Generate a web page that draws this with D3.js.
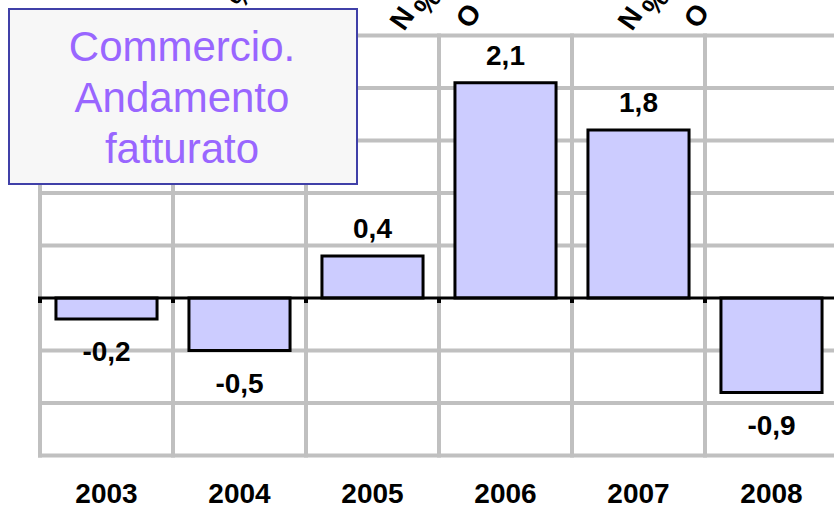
<!DOCTYPE html>
<meta charset="utf-8">
<style>
body { margin: 0; background: #fff; }
svg { display: block; }
.grid line { stroke: #c0c0c0; stroke-width: 4; }
.num { font-family: "Liberation Sans", Arial, sans-serif; font-weight: bold; font-size: 28px; fill: #000; }
.title { font-family: "Liberation Sans", Arial, sans-serif; font-size: 42px; fill: #9966ff; }
</style>
<body>
<script src="https://cdn.jsdelivr.net/npm/d3@7"></script>
<script>

// data
var years = ["2003", "2004", "2005", "2006", "2007", "2008"];
var values = [-0.2, -0.5, 0.4, 2.05, 1.6, -0.9];
var valueLabels = ["-0,2", "-0,5", "0,4", "2,1", "1,8", "-0,9"];
var gridTicks = [-1.5, -1, -0.5, 0.5, 1, 1.5, 2, 2.5];
var titleLines = ["Commercio.", "Andamento", "fatturato"];

var width = 834, height = 511;

var svg = d3.select("body").append("svg")
    .attr("width", width)
    .attr("height", height);

var y = d3.scaleLinear()
    .domain([-1.5, 2.5])
    .range([455.5, 35.5]);

var x = d3.scaleBand()
    .domain(years)
    .range([40, 838])
    .paddingInner(0.24)
    .paddingOuter(0.12);

var edges = d3.range(years.length + 1).map(function(i) { return 40 + i * x.step(); });

// grid
var grid = svg.append("g").attr("class", "grid");
grid.selectAll(".h")
    .data(gridTicks)
  .enter().append("line")
    .attr("x1", 38).attr("x2", width)
    .attr("y1", function(d) { return y(d); })
    .attr("y2", function(d) { return y(d); });
grid.selectAll(".v")
    .data(edges)
  .enter().append("line")
    .attr("x1", function(d) { return d; })
    .attr("x2", function(d) { return d; })
    .attr("y1", y(2.5) - 2)
    .attr("y2", y(-1.5) + 2);

// bars
svg.append("g")
  .selectAll("rect")
    .data(values)
  .enter().append("rect")
    .attr("x", function(d, i) { return x(years[i]); })
    .attr("width", x.bandwidth())
    .attr("y", function(d) { return y(Math.max(0, d)); })
    .attr("height", function(d) { return Math.abs(y(d) - y(0)); })
    .attr("fill", "#ccccff")
    .attr("stroke", "#000")
    .attr("stroke-width", 3);

// zero axis with small ticks
svg.append("line")
    .attr("x1", 38).attr("x2", width)
    .attr("y1", y(0)).attr("y2", y(0))
    .attr("stroke", "#000").attr("stroke-width", 3);
svg.append("g")
  .selectAll("line")
    .data(edges)
  .enter().append("line")
    .attr("x1", function(d) { return d; })
    .attr("x2", function(d) { return d; })
    .attr("y1", y(0)).attr("y2", y(0) + 5)
    .attr("stroke", "#000").attr("stroke-width", 4);

// value labels
svg.append("g")
  .selectAll("text")
    .data(values)
  .enter().append("text")
    .attr("class", "num")
    .attr("text-anchor", "middle")
    .attr("x", function(d, i) { return x(years[i]) + x.bandwidth() / 2; })
    .attr("y", function(d) { return d >= 0 ? y(d) - 18 : y(d) + 42; })
    .text(function(d, i) { return valueLabels[i]; });

// year labels
svg.append("g")
  .selectAll("text")
    .data(years)
  .enter().append("text")
    .attr("class", "num")
    .attr("text-anchor", "middle")
    .attr("x", function(d) { return x(d) + x.bandwidth() / 2; })
    .attr("y", 503)
    .text(function(d) { return d; });

// clipped rotated labels peeking in at the top
var peek = [[243, 10, "%"], [404, 32, "N"], [428, 18, "%"], [470, 30, "O"], [632, 32, "N"], [656, 18, "%"], [698, 30, "O"]];
svg.append("g")
  .selectAll("text")
    .data(peek)
  .enter().append("text")
    .attr("class", "num")
    .attr("transform", function(d) { return "translate(" + d[0] + "," + d[1] + ") rotate(-55)"; })
    .text(function(d) { return d[2]; });

// title box
svg.append("rect")
    .attr("x", 9).attr("y", 9)
    .attr("width", 348).attr("height", 175)
    .attr("fill", "#f7f7f7")
    .attr("stroke", "#4040a8")
    .attr("stroke-width", 2);

svg.append("text")
    .attr("class", "title")
    .attr("text-anchor", "middle")
  .selectAll("tspan")
    .data(titleLines)
  .enter().append("tspan")
    .attr("x", 182)
    .attr("y", function(d, i) { return 61 + i * 51; })
    .text(function(d) { return d; });

</script>
